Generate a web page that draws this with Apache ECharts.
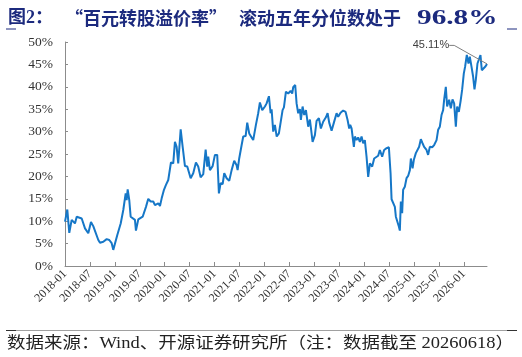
<!DOCTYPE html>
<html>
<head>
<meta charset="utf-8">
<script src="https://cdn.jsdelivr.net/npm/echarts@6/dist/echarts.min.js"></script>
<style>
html,body{margin:0;padding:0;background:#fff;}
#c{width:522px;height:357px;}
</style>
</head>
<body>
<div id="c"></div>
<script>
// decimal-year positions of samples
var years = [2018.000,2018.046,2018.086,2018.134,2018.200,2018.235,2018.335,2018.367,2018.401,2018.467,2018.521,2018.567,2018.601,2018.668,2018.702,2018.768,2018.836,2018.888,2018.936,2018.968,
2019.002,2019.049,2019.117,2019.169,2019.217,2019.237,2019.257,2019.289,2019.317,2019.357,2019.403,2019.423,2019.470,2019.504,2019.558,2019.624,2019.670,2019.718,2019.770,2019.804,2019.871,2019.905,2019.939,2019.985,
2020.025,2020.071,2020.125,2020.171,2020.205,2020.239,2020.271,2020.320,2020.360,2020.406,2020.452,2020.520,2020.572,2020.626,2020.672,2020.720,2020.773,2020.821,2020.853,2020.873,2020.907,2020.961,
2021.007,2021.053,2021.087,2021.121,2021.162,2021.194,2021.242,2021.294,2021.342,2021.394,2021.442,2021.462,2021.494,2021.543,2021.575,2021.623,2021.655,2021.695,2021.743,2021.775,2021.829,2021.875,2021.909,2021.956,
2022.010,2022.044,2022.090,2022.124,2022.144,2022.176,2022.210,2022.246,2022.290,2022.324,2022.364,2022.391,2022.431,2022.477,2022.525,2022.557,2022.577,2022.617,2022.645,2022.677,2022.711,2022.731,2022.765,2022.798,2022.832,2022.878,2022.912,2022.966,
2023.012,2023.046,2023.092,2023.132,2023.178,2023.233,2023.267,2023.299,2023.347,2023.393,2023.447,2023.479,2023.527,2023.579,2023.628,2023.668,2023.700,2023.720,2023.748,2023.794,2023.814,2023.848,2023.880,2023.914,2023.948,2023.980,
2024.014,2024.048,2024.081,2024.115,2024.161,2024.201,2024.235,2024.281,2024.315,2024.361,2024.401,2024.450,2024.496,2024.530,2024.550,2024.582,2024.616,2024.636,2024.662,2024.696,2024.716,2024.736,2024.762,2024.782,2024.816,2024.850,2024.882,2024.917,2024.937,2024.971,2024.997,
2025.037,2025.071,2025.103,2025.137,2025.171,2025.203,2025.251,2025.283,2025.317,2025.364,2025.404,2025.452,2025.484,2025.518,2025.552,2025.584,2025.604,2025.638,2025.664,2025.704,2025.738,2025.772,2025.805,2025.839,2025.865,2025.899,2025.933,2025.965,2025.999,
2026.025,2026.059,2026.093,2026.119,2026.153,2026.185,2026.213,2026.239,2026.273,2026.305,2026.333,2026.360,2026.400,2026.436,2026.464];

// rolling 5y percentile of premium rate (%)
var values = [9.9,12.6,7.4,10.3,9.5,11.0,10.6,10.3,8.4,7.3,9.8,8.9,9.2,5.8,5.2,5.4,6.0,5.8,5.1,3.6,
3.4,6.9,9.5,12.5,16.2,14.7,17.1,14.7,11.0,11.2,10.3,7.9,10.4,10.6,11.0,13.2,15.0,14.4,14.4,13.6,14.0,13.4,15.1,17.0,
18.1,19.2,23.1,22.9,27.7,26.6,22.9,30.5,26.6,22.3,22.2,19.6,20.7,23.1,22.2,19.8,20.5,26.0,22.2,24.4,21.4,22.3,
24.8,24.8,16.2,18.5,18.3,20.7,19.6,19.0,21.4,23.5,22.5,21.4,24.0,27.0,28.9,29.0,32.0,29.6,28.7,28.1,31.5,34.1,36.5,34.8,
35.6,36.3,37.9,34.1,35.0,30.0,31.5,28.9,29.6,29.2,34.8,35.4,38.9,38.5,39.1,38.5,39.9,40.4,36.3,34.1,35.0,32.6,35.6,33.7,34.8,31.1,32.7,27.7,
29.2,32.4,33.0,30.7,32.2,33.2,34.1,32.0,30.2,32.0,34.1,33.3,34.2,34.7,34.4,32.6,30.7,31.5,30.7,26.6,28.9,28.1,28.7,27.7,28.9,27.4,
28.1,24.4,19.9,22.9,22.2,24.0,24.3,24.6,25.9,24.4,25.9,26.3,26.5,20.7,14.9,14.7,13.2,11.0,11.4,8.8,7.9,14.4,11.8,17.0,17.7,19.6,20.1,21.4,24.0,21.8,23.7,
25.2,24.8,26.6,28.3,27.4,26.6,25.9,24.8,26.6,26.5,27.0,28.1,30.4,31.1,33.7,34.8,37.1,40.0,35.6,37.1,35.2,37.2,36.3,31.1,35.6,34.4,36.7,39.3,43.0,
44.5,47.1,45.2,46.7,44.5,42.3,39.4,41.5,45.2,45.6,47.1,43.7,43.9,44.6,45.11];

var tickValues = [2018,2018.5,2019,2019.5,2020,2020.5,2021,2021.5,2022,2022.5,2023,2023.5,2024,2024.5,2025,2025.5,2026];
var tickLabels = ['2018-01','2018-07','2019-01','2019-07','2020-01','2020-07','2021-01','2021-07','2022-01','2022-07','2023-01','2023-07','2024-01','2024-07','2025-01','2025-07','2026-01'];

var endLabelText = '45.11%';
var titleParts = ['图2：', '“百元转股溢价率”', '滚动五年分位数处于', '96.8%'];
var footerText = '数据来源：Wind、开源证券研究所（注：数据截至 20260618）';

var seriesData = years.map(function (y, i) {
  if (i === years.length - 1) {
    return {
      value: [y, values[i]],
      label: {show: true, formatter: endLabelText}
    };
  }
  return [y, values[i]];
});

var chart = echarts.init(document.getElementById('c'));
var serif = "'Liberation Serif','Times New Roman','Noto Sans CJK SC',serif";
var navy = '#1c2a7e';
chart.setOption({
  animation: false,
  backgroundColor: '#ffffff',
  grid: {left: 65, right: 35, top: 42, bottom: 91},
  xAxis: {
    type: 'value',
    min: 2018, max: 2026.464, interval: 0.5,
    splitLine: {show: false},
    axisLine: {lineStyle: {color: '#8c8c8c', width: 1}},
    axisTick: {inside: true, length: 4, lineStyle: {color: '#8c8c8c'}, customValues: tickValues},
    axisLabel: {
      rotate: 45, fontFamily: serif, fontSize: 12, color: '#333', margin: 6,
      customValues: tickValues,
      formatter: function (v) {
        var idx = tickValues.indexOf(Math.round(v * 2) / 2);
        return idx >= 0 ? tickLabels[idx] : '';
      }
    }
  },
  yAxis: {
    type: 'value', min: 0, max: 50, interval: 5,
    splitLine: {show: false},
    axisLine: {show: true, lineStyle: {color: '#8c8c8c', width: 1}},
    axisTick: {show: true, inside: true, length: 3, lineStyle: {color: '#8c8c8c'}},
    axisLabel: {formatter: '{value}%', fontFamily: serif, fontSize: 13.5, color: '#333', margin: 12}
  },
  series: [{
    type: 'line',
    data: seriesData,
    showSymbol: true,
    showAllSymbol: true,
    symbol: 'circle',
    symbolSize: 0.01,
    itemStyle: {color: 'rgba(0,0,0,0)'},
    lineStyle: {color: '#1677c7', width: 2},
    label: {show: false, fontFamily: "'Liberation Sans',Arial,sans-serif", fontSize: 11, color: '#404040'},
    labelLine: {show: true, length2: 5, lineStyle: {color: '#7f7f7f', width: 1}},
    labelLayout: {dx: -56, dy: -8},
    z: 3
  }],
  graphic: [
    {type: 'text', x: 8, y: 18, style: {text: titleParts[0], font: "bold 18px 'Liberation Serif','Noto Sans CJK SC'", fill: navy, textVerticalAlign: 'middle'}},
    {type: 'text', x: 65, y: 18, style: {text: titleParts[1], font: "bold 18px 'Noto Sans CJK SC'", fill: navy, textVerticalAlign: 'middle'}},
    {type: 'text', x: 239, y: 18, style: {text: titleParts[2], font: "bold 18px 'Noto Sans CJK SC'", fill: navy, textVerticalAlign: 'middle'}},
    {type: 'text', x: 417, y: 18, scaleX: 1.33, style: {text: titleParts[3], font: "bold 22px 'Liberation Serif'", fill: navy, textVerticalAlign: 'middle'}},
    {type: 'line', shape: {x1: 6, y1: 29, x2: 16, y2: 29}, style: {stroke: navy, lineWidth: 1}},
    {type: 'line', shape: {x1: 507, y1: 29, x2: 517, y2: 29}, style: {stroke: navy, lineWidth: 1}},
    {type: 'line', shape: {x1: 6, y1: 330.5, x2: 516, y2: 330.5}, style: {stroke: '#a0a0a0', lineWidth: 1}},
    {type: 'line', shape: {x1: 6, y1: 330.5, x2: 16, y2: 330.5}, style: {stroke: '#333', lineWidth: 1}},
    {type: 'line', shape: {x1: 507, y1: 330.5, x2: 517, y2: 330.5}, style: {stroke: '#333', lineWidth: 1}},
    {type: 'text', x: 7, y: 344, scaleX: 1.155, style: {text: footerText, font: "16px 'Liberation Serif','Noto Sans CJK SC',serif", fill: '#222', textVerticalAlign: 'middle'}}
  ]
});
</script>
</body>
</html>
